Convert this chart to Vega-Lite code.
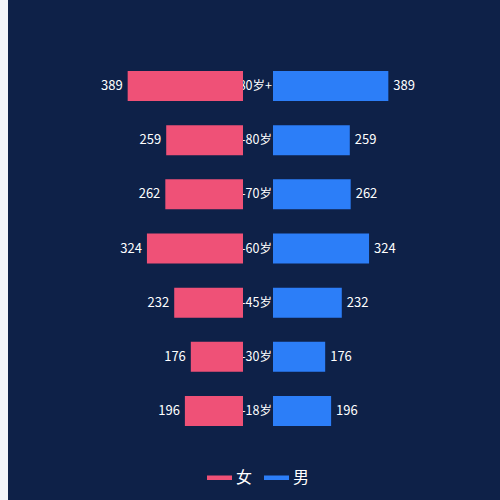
{
  "$schema": "https://vega.github.io/schema/vega-lite/v6.json",
  "background": "#0e2148",
  "padding": 0,
  "autosize": {"type": "pad"},
  "config": {
    "view": {"stroke": null},
    "font": "Noto Sans CJK SC",
    "concat": {"spacing": 0}
  },
  "data": {
    "values": [
      {"age": "80岁+", "female": 389, "male": 389},
      {"age": "70-80岁", "female": 259, "male": 259},
      {"age": "60-70岁", "female": 262, "male": 262},
      {"age": "45-60岁", "female": 324, "male": 324},
      {"age": "30-45岁", "female": 232, "male": 232},
      {"age": "18-30岁", "female": 176, "male": 176},
      {"age": "0-18岁", "female": 196, "male": 196}
    ]
  },
  "bounds": "flush",
  "hconcat": [
    {
      "width": 8,
      "height": 500,
      "mark": {"type": "rect", "color": "#f2f4f8"},
      "encoding": {}
    },
    {
      "spacing": 30,
      "bounds": "flush",
      "hconcat": [
        {
          "width": 235,
          "height": 500,
          "encoding": {
            "y": {
              "field": "age", "type": "nominal", "sort": null, "axis": null,
              "scale": {"paddingInner": 0.446, "paddingOuter": 0, "range": [71, 426]}
            }
          },
          "layer": [
            {
              "mark": {"type": "text", "color": "white", "fontSize": 12.5, "align": "right", "baseline": "middle", "dx": 29},
              "encoding": {
                "x": {"datum": 0, "type": "quantitative", "scale": {"domain": [0, 792.6], "reverse": true}, "axis": null},
                "text": {"field": "age"}
              }
            },
            {
              "mark": {"type": "bar"},
              "encoding": {
                "x": {"field": "female", "type": "quantitative", "scale": {"domain": [0, 792.6], "reverse": true}, "axis": null},
                "color": {"datum": "女", "type": "nominal", "scale": {"domain": ["女", "男"], "range": ["#ef5177", "#2c7ef8"]}, "legend": {
                  "orient": "none", "legendX": 207, "legendY": 465, "direction": "horizontal",
                  "title": null, "labelColor": "white", "labelFontSize": 16, "labelFont": "Noto Sans CJK SC",
                  "symbolType": "M-1,-0.18L1,-0.18L1,0.18L-1,0.18Z", "symbolSize": 625, "symbolStrokeWidth": 0,
                  "labelOffset": 4, "columnPadding": 11
                }}
              }
            },
            {
              "mark": {"type": "text", "color": "white", "fontSize": 13, "align": "right", "baseline": "middle", "dx": -5},
              "encoding": {
                "x": {"field": "female", "type": "quantitative", "scale": {"domain": [0, 792.6], "reverse": true}, "axis": null},
                "text": {"field": "female"}
              }
            }
          ]
        },
        {
          "width": 227,
          "height": 500,
          "encoding": {
            "y": {
              "field": "age", "type": "nominal", "sort": null, "axis": null,
              "scale": {"paddingInner": 0.446, "paddingOuter": 0, "range": [71, 426]}
            }
          },
          "layer": [
            {
              "mark": {"type": "bar"},
              "encoding": {
                "x": {"field": "male", "type": "quantitative", "scale": {"domain": [0, 765.6]}, "axis": null},
                "color": {"datum": "男", "type": "nominal"}
              }
            },
            {
              "mark": {"type": "text", "color": "white", "fontSize": 13, "align": "left", "baseline": "middle", "dx": 5},
              "encoding": {
                "x": {"field": "male", "type": "quantitative", "scale": {"domain": [0, 765.6]}, "axis": null},
                "text": {"field": "male"}
              }
            }
          ]
        }
      ]
    }
  ]
}
